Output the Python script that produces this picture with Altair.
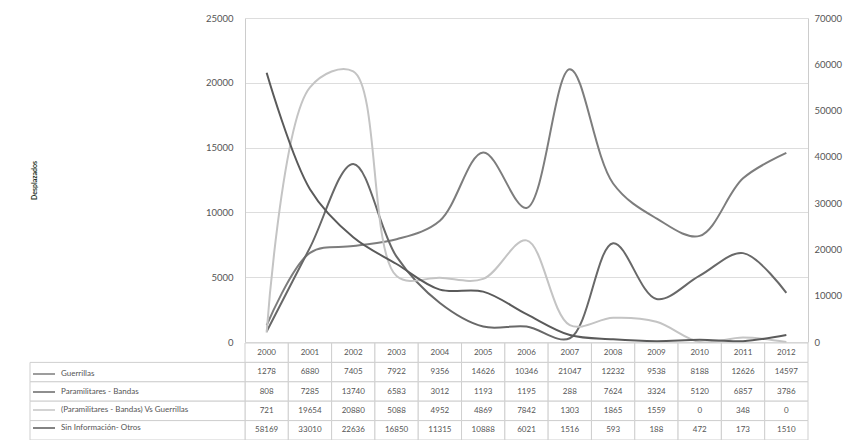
import altair as alt
import pandas as pd

years = [str(y) for y in range(2000, 2013)]
guerrillas = [1278, 6880, 7405, 7922, 9356, 14626, 10346, 21047, 12232, 9538, 8188, 12626, 14597]
paramilitares = [808, 7285, 13740, 6583, 3012, 1193, 1195, 288, 7624, 3324, 5120, 6857, 3786]
pvg = [721, 19654, 20880, 5088, 4952, 4869, 7842, 1303, 1865, 1559, 0, 348, 0]
sin_info = [58169, 33010, 22636, 16850, 11315, 10888, 6021, 1516, 593, 188, 472, 173, 1510]

series_names = ["Guerrillas", "Paramilitares - Bandas",
                "(Paramilitares - Bandas) Vs Guerrillas", "Sin Información- Otros"]
series_colors = ["#7d7d7d", "#686868", "#c4c4c4", "#5a5a5a"]
left_ticks = [0, 5000, 10000, 15000, 20000, 25000]
right_ticks = [0, 10000, 20000, 30000, 40000, 50000, 60000, 70000]
header_key = "Año"

FONT = "Lato"
W, LINE_H = 563, 324
TABLE_RANGE = [325, 422]
H = 422

all_values = [guerrillas, paramilitares, pvg, sin_info]

rows = []
for name, vals in zip(series_names, all_values):
    for y, v in zip(years, vals):
        rows.append({"series": name, "year": y, "value": v})
df = pd.DataFrame(rows)
df_left = df[df.series != series_names[3]]
df_right = df[df.series == series_names[3]]

trows = [{"row": header_key, "year": y, "text": y} for y in years]
for name, vals in zip(series_names, all_values):
    for y, v in zip(years, vals):
        trows.append({"row": name, "year": y, "text": str(v)})
df_table = pd.DataFrame(trows)
df_labels = pd.DataFrame({"row": series_names})

row_domain = [header_key] + series_names

color = alt.Color("series:N", scale=alt.Scale(domain=series_names, range=series_colors),
                  legend=alt.Legend(orient="none", legendX=-213, legendY=344, title=None,
                                    symbolType="stroke", symbolSize=484, symbolStrokeWidth=1.5,
                                    labelFontSize=8, labelColor="#555", labelFont=FONT,
                                    rowPadding=2, padding=0, labelOffset=5, labelLimit=0,
                                    direction="vertical"))

x_line = alt.X("year:O", scale=alt.Scale(type="point", domain=years, padding=0.5), axis=None)

left = alt.Chart(df_left).mark_line(interpolate="catmull-rom", strokeWidth=2).encode(
    x=x_line,
    y=alt.Y("value:Q", scale=alt.Scale(domain=[0, 25000], range=[LINE_H, 0], nice=False),
            axis=alt.Axis(orient="left", values=left_ticks, format="d", grid=True,
                          gridColor="#dddddd",
                          domainColor="#cccccc", ticks=False, labelPadding=12,
                          labelFontSize=9.5, labelColor="#555", labelFont=FONT,
                          title="Desplazados", titleX=-208, titleY=LINE_H / 2,
                          titleFontSize=7, titleFontWeight="bold", titleColor="#263526",
                          titleFont=FONT)),
    color=color,
)

right = alt.Chart(df_right).mark_line(interpolate="catmull-rom", strokeWidth=2).encode(
    x=x_line,
    y=alt.Y("value:Q", scale=alt.Scale(domain=[0, 70000], range=[LINE_H, 0], nice=False),
            axis=alt.Axis(orient="right", values=right_ticks, format="d", grid=False,
                          domainColor="#cccccc", ticks=False, labelPadding=6,
                          labelFontSize=9.5, labelColor="#555", labelFont=FONT, title=None)),
    color=color,
)

x_tab = alt.X("year:O", scale=alt.Scale(type="band", domain=years, paddingInner=0, paddingOuter=0),
              axis=None)
y_tab = alt.Y("row:N", scale=alt.Scale(type="band", domain=row_domain, range=TABLE_RANGE,
                                       paddingInner=0, paddingOuter=0), axis=None)

cells = alt.Chart(df_table).mark_rect(fill="white", stroke="#cfcfcf", strokeWidth=1).encode(
    x=x_tab, y=y_tab)
texts = alt.Chart(df_table).mark_text(fontSize=8, color="#555", font=FONT).encode(
    x=x_tab, y=y_tab, text="text:N")
label_cells = alt.Chart(df_labels).mark_rect(fill="white", stroke="#cfcfcf", strokeWidth=1).encode(
    x=alt.value(-215), x2=alt.value(0), y=y_tab)

table = alt.layer(cells, label_cells, texts)

chart = alt.layer(left, right, table).resolve_scale(
    y="independent", x="independent"
).properties(
    width=W, height=H,
    padding={"left": 237, "top": 10, "right": 35, "bottom": 0},
    autosize=alt.AutoSizeParams(type="none"),
).configure_view(stroke=None)

chart.save("out.html", embed_options={"renderer": "svg", "actions": False})
